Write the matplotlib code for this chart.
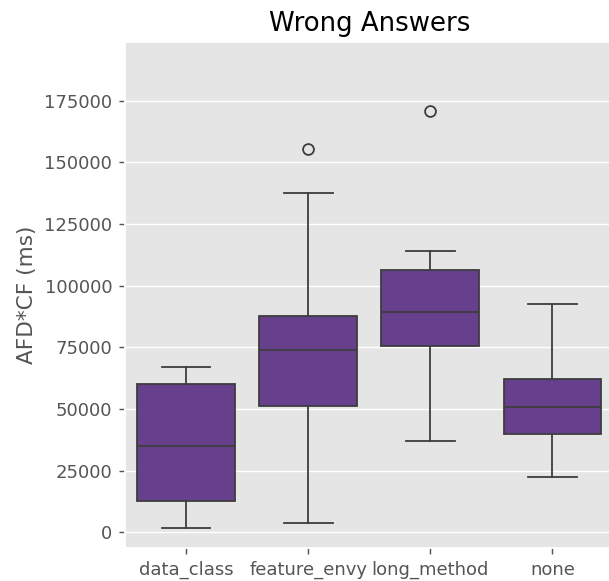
import matplotlib
matplotlib.use("Agg")
import matplotlib.pyplot as plt

plt.style.use("ggplot")

# Box statistics per smell category (milliseconds)
categories = ["data_class", "feature_envy", "long_method", "none"]
whisker_low = [1700, 3900, 37000, 22500]
q1 = [12800, 51300, 75500, 39700]
median = [35000, 73900, 89500, 50900]
q3 = [60100, 87800, 106500, 62000]
whisker_high = [67100, 137500, 114000, 92600]
outliers = [[], [155300], [170700], []]

fill_color = "#66408c"
line_color = "#3d3d3d"

dpi = 130
fig = plt.figure(figsize=(609 / dpi, 581 / dpi), dpi=dpi)
ax = fig.add_axes([125 / 609, (581 - 548.3) / 581,
                   (613.5 - 125) / 609, (548.3 - 42.3) / 581])

stats = []
for name, lo, a, m, b, hi, fl in zip(categories, whisker_low, q1, median,
                                      q3, whisker_high, outliers):
    stats.append(dict(label=name, whislo=lo, q1=a, med=m, q3=b,
                      whishi=hi, fliers=fl))

lw = 1.0
ax.bxp(stats, positions=range(len(categories)), widths=0.8,
       patch_artist=True, showfliers=True,
       boxprops=dict(facecolor=fill_color, edgecolor=line_color, linewidth=lw),
       medianprops=dict(color=line_color, linewidth=lw),
       whiskerprops=dict(color=line_color, linewidth=lw),
       capprops=dict(color=line_color, linewidth=lw),
       capwidths=0.4,
       flierprops=dict(marker="o", markerfacecolor="none",
                       markeredgecolor=line_color, markersize=6,
                       markeredgewidth=lw))

ax.set_xlim(-0.5, len(categories) - 0.5)
ax.set_ylim(-6500, 198700)
ax.set_yticks([0, 25000, 50000, 75000, 100000, 125000, 150000, 175000])
ax.set_xticks(range(len(categories)))
ax.set_xticklabels(categories)
ax.grid(axis="x", visible=False)
ax.set_ylabel("AFD*CF (ms)")
ax.set_title("Wrong Answers")

fig.savefig("out.png", dpi=dpi)
